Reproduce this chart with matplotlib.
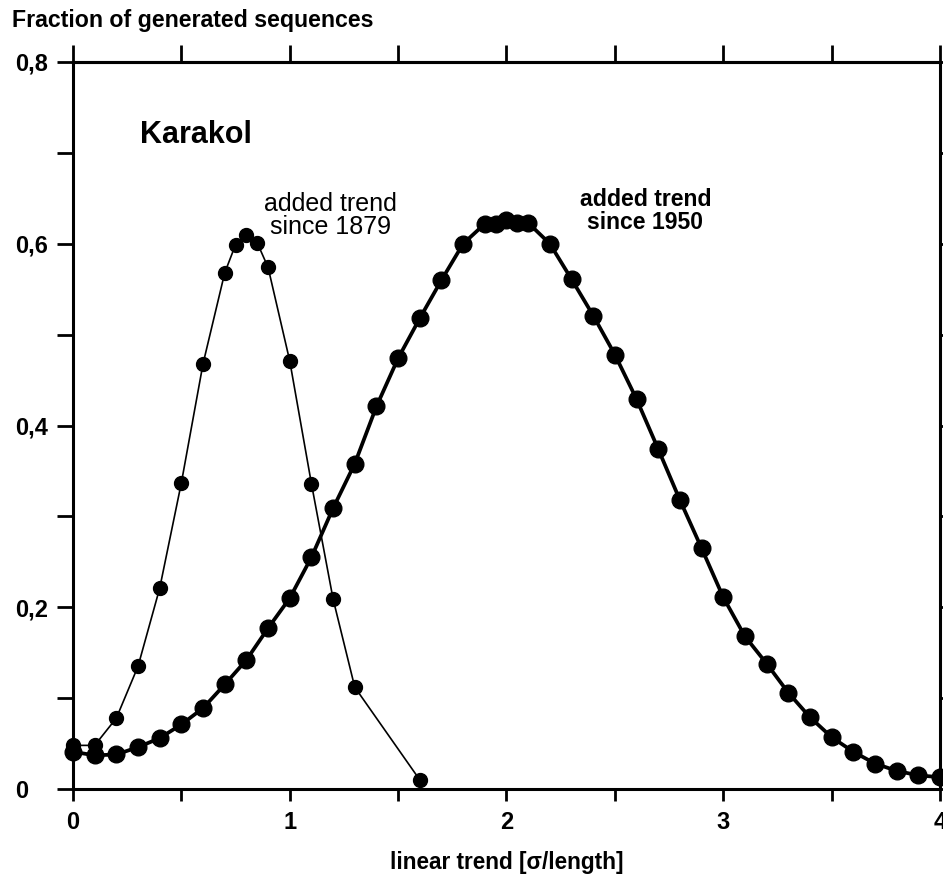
import matplotlib
matplotlib.use("Agg")
import matplotlib.pyplot as plt
from matplotlib.ticker import MultipleLocator, FixedLocator, FuncFormatter, NullFormatter

plt.rcParams['font.family'] = ['Liberation Sans', 'DejaVu Sans']

# series "added trend since 1879"
x1879 = [0.0, 0.1, 0.2, 0.3, 0.4, 0.5, 0.6, 0.7, 0.75, 0.8, 0.85, 0.9, 1.0, 1.1, 1.2, 1.3, 1.6]
y1879 = [0.048, 0.048, 0.078, 0.135, 0.221, 0.337, 0.468, 0.568, 0.599, 0.610, 0.601, 0.574,
         0.471, 0.336, 0.209, 0.112, 0.010]

# series "added trend since 1950"
x1950 = [0.0, 0.1, 0.2, 0.3, 0.4, 0.5, 0.6, 0.7, 0.8, 0.9, 1.0, 1.1, 1.2, 1.3, 1.4, 1.5, 1.6,
         1.7, 1.8, 1.9, 1.95, 2.0, 2.05, 2.1, 2.2, 2.3, 2.4, 2.5, 2.6, 2.7, 2.8, 2.9, 3.0,
         3.1, 3.2, 3.3, 3.4, 3.5, 3.6, 3.7, 3.8, 3.9, 4.0]
y1950 = [0.041, 0.037, 0.038, 0.046, 0.056, 0.071, 0.089, 0.115, 0.142, 0.177, 0.210, 0.255,
         0.309, 0.358, 0.421, 0.474, 0.518, 0.560, 0.600, 0.622, 0.622, 0.626, 0.623, 0.623,
         0.600, 0.561, 0.521, 0.478, 0.429, 0.374, 0.318, 0.265, 0.211, 0.168, 0.138, 0.106,
         0.079, 0.057, 0.041, 0.028, 0.020, 0.015, 0.013]

xtick_values = [0, 1, 2, 3, 4]
xtick_labels = ['0', '1', '2', '3', '4']
ytick_values = [0, 0.2, 0.4, 0.6, 0.8]
ytick_labels = ['0', '0,2', '0,4', '0,6', '0,8']

fig = plt.figure(figsize=(9.43, 8.76), dpi=100)
ax = fig.add_axes([73/943, 1-789/876, (940-73)/943, (789-62)/876])

ax.plot(x1879, y1879, color='black', lw=1.2, marker='o', ms=10, mfc='black', mec='black', clip_on=False, zorder=3)
ax.plot(x1950, y1950, color='black', lw=2.7, marker='o', ms=12, mfc='black', mec='black', clip_on=False, zorder=3)

ax.set_xlim(0, 4)
ax.set_ylim(0, 0.8)

for s in ax.spines.values():
    s.set_linewidth(2.2)

ax.set_xticks(xtick_values, xtick_labels)
ax.xaxis.set_minor_locator(MultipleLocator(0.5))
ax.set_yticks(ytick_values, ytick_labels)
ax.yaxis.set_minor_locator(MultipleLocator(0.1))

ax.tick_params(axis='both', which='both', direction='out', width=2.0, top=False, right=True)
ax.tick_params(axis='x', which='both', length=8.5, labelsize=17, pad=7)
ax.tick_params(axis='y', which='both', length=11.5, labelsize=17, pad=30)
for lab in ax.get_xticklabels():
    lab.set_fontweight('bold')
for lab in ax.get_yticklabels():
    lab.set_fontweight('bold')
    lab.set_horizontalalignment('left')

sec = ax.secondary_xaxis('top')
sec.set_xticks(xtick_values)
sec.xaxis.set_minor_locator(MultipleLocator(0.5))
sec.xaxis.set_major_formatter(NullFormatter())
sec.tick_params(axis='x', which='both', direction='out', width=2.0, length=12)
sec.spines['top'].set_linewidth(2.2)

ax.text(0.31, 0.720, 'Karakol', fontsize=22, fontweight='bold', ha='left', va='center')
ax.text(1.186, 0.631, 'added trend\nsince 1879', fontsize=18, ha='center', va='center', linespacing=0.95)
ax.text(2.641, 0.636, 'added trend\nsince 1950', fontsize=16.6, fontweight='bold', ha='center', va='center', linespacing=1.0)

fig.text(12/943, 1-20/876, 'Fraction of generated sequences', fontsize=16.7, fontweight='bold', ha='left', va='center')
fig.text(507/943, 1-862/876, 'linear trend [σ/length]', fontsize=16.3, fontweight='bold', ha='center', va='center')

fig.savefig('out.png', dpi=100)
